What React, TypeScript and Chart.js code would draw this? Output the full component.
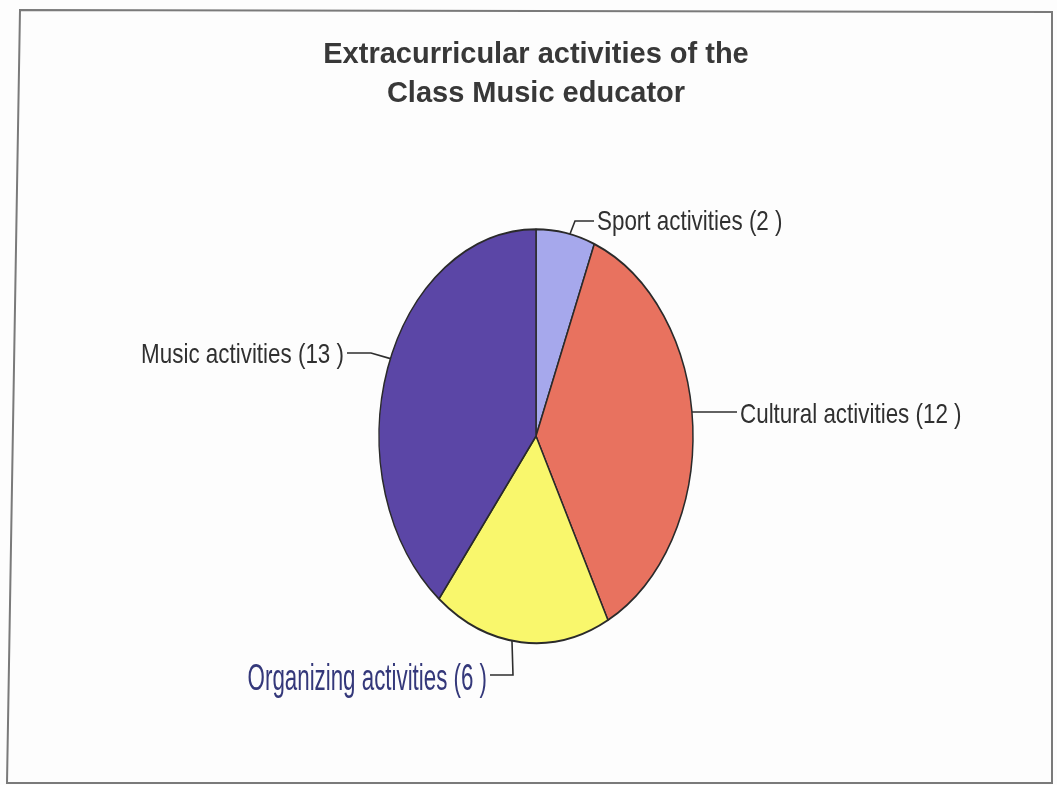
import React, { useEffect, useRef } from "react";
import { Chart, registerables } from "chart.js";

Chart.register(...registerables);

// ---- data ----
const categories = ["Sport activities", "Cultural activities", "Organizing activities", "Music activities"];
const counts = [2, 12, 6, 13];
const sliceColors = ["#a6a8ec", "#e8725f", "#f9f76c", "#5b46a6"];
const titleLines = ["Extracurricular activities of the", "Class Music educator"];
const labelTexts = categories.map((c, i) => `${c} (${counts[i]} )`);

// ---- layout / style ----
const W = 1057;
const H = 785;
const PIE_RADIUS = 157;
const Y_STRETCH = 207 / 157;
const FONT = '"Liberation Sans", Arial, sans-serif';

type LabelLayout = {
  angle: number;
  knee: [number, number] | null;
  end: [number, number];
  tx: number;
  ty: number;
  align: CanvasTextAlign;
  size: number;
  sx: number;
  color: string;
};

const labelLayout: LabelLayout[] = [
  { angle: 12.5, knee: [575, 221], end: [594, 221], tx: 597, ty: 222, align: "left", size: 28, sx: 0.8, color: "#303030" },
  { angle: 83.3, knee: null, end: [737, 412], tx: 740, ty: 415, align: "left", size: 28, sx: 0.8, color: "#303030" },
  { angle: 188.8, knee: [513, 675], end: [490, 675], tx: 487, ty: 680, align: "right", size: 36, sx: 0.62, color: "#34387a" },
  { angle: 292, knee: [371, 353], end: [347, 353], tx: 344, ty: 355, align: "right", size: 28, sx: 0.8, color: "#303030" },
];

const ellipsePlugin = {
  id: "ellipsePie",
  beforeDraw(chart: any) {
    const ctx = chart.ctx as CanvasRenderingContext2D;
    ctx.save();
    ctx.fillStyle = "#fdfdfd";
    ctx.fillRect(0, 0, W, H);
    ctx.strokeStyle = "#7a7a7a";
    ctx.lineWidth = 2;
    ctx.beginPath();
    ctx.moveTo(20, 10);
    ctx.lineTo(1052, 12);
    ctx.lineTo(1052, 783);
    ctx.lineTo(7, 783);
    ctx.closePath();
    ctx.stroke();
    ctx.restore();
  },
  beforeDatasetsDraw(chart: any) {
    const arc = chart.getDatasetMeta(0).data[0];
    const ctx = chart.ctx as CanvasRenderingContext2D;
    ctx.save();
    ctx.translate(arc.x, arc.y);
    ctx.scale(1, Y_STRETCH);
    ctx.translate(-arc.x, -arc.y);
  },
  afterDatasetsDraw(chart: any) {
    chart.ctx.restore();
  },
  afterDraw(chart: any) {
    const arc = chart.getDatasetMeta(0).data[0];
    const cx = arc.x;
    const cy = arc.y;
    const r = arc.outerRadius;
    const ctx = chart.ctx as CanvasRenderingContext2D;
    ctx.save();
    labelLayout.forEach((l, i) => {
      const a = (l.angle * Math.PI) / 180;
      const ex = cx + r * Math.sin(a);
      const ey = cy - r * Y_STRETCH * Math.cos(a);
      ctx.strokeStyle = "#2e2e2e";
      ctx.lineWidth = 1.6;
      ctx.beginPath();
      ctx.moveTo(ex, l.knee ? ey : l.end[1]);
      if (l.knee) ctx.lineTo(l.knee[0], l.knee[1]);
      ctx.lineTo(l.end[0], l.end[1]);
      ctx.stroke();

      ctx.save();
      ctx.translate(l.tx, l.ty);
      ctx.scale(l.sx, 1);
      ctx.font = `${l.size}px ${FONT}`;
      ctx.fillStyle = l.color;
      ctx.textAlign = l.align;
      ctx.textBaseline = "middle";
      ctx.fillText(labelTexts[i], 0, 0);
      ctx.restore();
    });
    ctx.restore();
  },
};

export default function App() {
  const canvasRef = useRef<HTMLCanvasElement | null>(null);

  useEffect(() => {
    if (!canvasRef.current) return;
    const chart = new Chart(canvasRef.current, {
      type: "pie",
      data: {
        labels: categories,
        datasets: [
          {
            data: counts,
            backgroundColor: sliceColors,
            borderColor: "#2a2a2a",
            borderWidth: 1.5,
            radius: PIE_RADIUS,
          } as any,
        ],
      },
      options: {
        responsive: false,
        animation: false,
        devicePixelRatio: 1,
        layout: { padding: { left: 200, right: 185, top: 20, bottom: 36 } },
        plugins: {
          legend: { display: false },
          tooltip: { enabled: false },
          title: {
            display: true,
            text: titleLines,
            color: "#383838",
            font: { family: FONT, size: 29, weight: "bold", lineHeight: 1.35 },
            padding: { top: 15, bottom: 10 },
          },
        },
      },
      plugins: [ellipsePlugin],
    });
    return () => chart.destroy();
  }, []);

  return (
    <div style={{ position: "absolute", left: 0, top: 0, width: W, height: H }}>
      <canvas ref={canvasRef} width={W} height={H} style={{ width: W, height: H }} />
    </div>
  );
}
